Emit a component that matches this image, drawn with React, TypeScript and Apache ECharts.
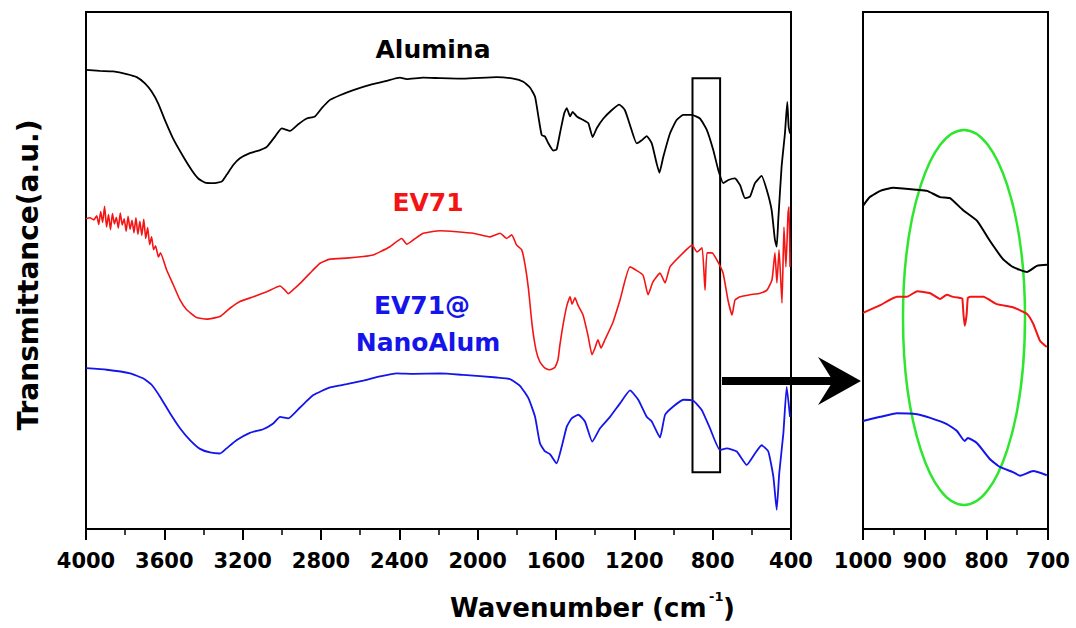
import React, { useEffect, useRef } from "react";
import * as echarts from "echarts";

// Full-range FTIR spectra: [wavenumber (cm^-1), transmittance (a.u.)]
const aluminaFull: [number, number][] = [
  [4000, 88.8], [3929, 88.6], [3861, 88.5], [3792, 88.0], [3741, 87.4], [3699, 86.2],
  [3665, 84.6], [3631, 82.3], [3597, 79.1], [3551, 75.2], [3503, 72.0], [3460, 69.4],
  [3427, 67.8], [3392, 67.0], [3350, 66.9], [3307, 67.2], [3282, 68.5], [3248, 70.4],
  [3214, 71.7], [3163, 72.7], [3111, 73.3], [3077, 73.9], [3035, 75.9], [3001, 77.5],
  [2958, 77.0], [2916, 78.3], [2873, 79.4], [2831, 79.8], [2796, 81.4], [2754, 83.0],
  [2703, 83.9], [2635, 84.9], [2550, 85.9], [2464, 86.7], [2397, 87.3], [2362, 87.0],
  [2278, 87.3], [2192, 87.2], [2073, 87.1], [1903, 87.4], [1818, 87.1], [1767, 86.5],
  [1733, 85.4], [1707, 83.6], [1690, 79.8], [1673, 76.2], [1656, 75.9], [1639, 74.6],
  [1614, 73.2], [1597, 73.4], [1580, 76.5], [1558, 80.4], [1545, 81.4], [1528, 79.8],
  [1515, 80.7], [1494, 79.8], [1460, 79.1], [1435, 78.5], [1413, 75.8], [1392, 77.5],
  [1358, 79.4], [1316, 81.0], [1277, 82.1], [1248, 81.0], [1222, 78.1], [1188, 74.6],
  [1162, 75.2], [1137, 76.0], [1111, 74.6], [1086, 70.7], [1072, 68.9], [1052, 72.0],
  [1018, 76.5], [984, 79.1], [950, 80.1], [907, 80.1], [865, 79.4], [830, 77.2],
  [797, 73.3], [771, 69.4], [746, 66.9], [720, 67.5], [686, 67.8], [660, 66.5],
  [635, 64.0], [609, 64.3], [584, 66.9], [550, 68.3], [524, 65.6], [499, 61.7],
  [482, 55.9], [473, 54.6], [465, 59.8], [448, 70.1], [431, 76.5], [419, 82.6],
  [412, 77.8], [405, 76.5],
];

const ev71Full: [number, number][] = [
  [4000, 60.0], [3980, 60.2], [3960, 59.8], [3945, 60.6], [3935, 58.9], [3925, 61.4],
  [3915, 59.3], [3905, 62.4], [3895, 58.4], [3885, 60.8], [3875, 57.9], [3865, 61.0],
  [3855, 59.0], [3845, 60.3], [3835, 58.2], [3825, 61.1], [3815, 58.8], [3805, 60.0],
  [3795, 57.6], [3785, 60.5], [3775, 58.0], [3765, 59.7], [3755, 57.3], [3745, 60.2],
  [3735, 57.0], [3725, 59.5], [3715, 56.8], [3705, 59.9], [3695, 56.2], [3685, 58.3],
  [3675, 55.0], [3665, 56.5], [3655, 54.0], [3645, 54.8], [3630, 52.6], [3620, 53.4],
  [3588, 50.1], [3554, 47.2], [3520, 44.3], [3486, 42.4], [3435, 40.9], [3384, 40.6],
  [3316, 41.1], [3265, 42.7], [3214, 44.0], [3146, 44.9], [3077, 45.9], [3009, 47.0],
  [2984, 46.2], [2967, 45.5], [2933, 46.6], [2907, 47.5], [2856, 49.5], [2805, 51.4],
  [2754, 52.2], [2669, 52.4], [2584, 52.7], [2534, 53.0], [2499, 53.6], [2448, 54.6],
  [2388, 56.2], [2362, 55.1], [2329, 55.9], [2278, 57.2], [2192, 57.7], [2022, 57.2],
  [1937, 56.5], [1886, 57.2], [1852, 56.2], [1826, 56.9], [1801, 54.9], [1775, 54.0],
  [1758, 51.1], [1741, 46.6], [1722, 39.5], [1702, 34.6], [1682, 32.3], [1656, 31.1],
  [1631, 30.8], [1605, 31.3], [1590, 32.7], [1580, 35.6], [1564, 39.5], [1544, 43.3],
  [1528, 44.9], [1518, 43.5], [1503, 44.7], [1488, 43.3], [1462, 41.4], [1437, 37.5],
  [1416, 33.7], [1401, 35.0], [1386, 36.6], [1370, 35.0], [1350, 36.6], [1309, 40.0],
  [1273, 44.3], [1222, 50.7], [1156, 49.1], [1130, 45.3], [1105, 47.8], [1069, 49.5],
  [1043, 47.6], [1018, 50.7], [951, 53.4], [905, 54.9], [880, 53.6], [854, 54.4],
  [839, 46.2], [829, 53.4], [803, 53.4], [778, 52.0], [747, 49.5], [722, 44.3],
  [701, 41.4], [686, 44.3], [660, 44.9], [609, 45.3], [558, 45.6], [523, 46.2],
  [497, 48.2], [482, 53.4], [472, 47.6], [461, 54.0], [446, 43.7], [436, 58.4],
  [426, 50.7], [415, 61.1], [410, 62.3], [405, 50.7],
];

const nanoAlumFull: [number, number][] = [
  [4000, 31.1], [3894, 30.8], [3775, 30.1], [3707, 29.1], [3665, 27.9], [3622, 25.6],
  [3571, 22.4], [3520, 19.5], [3469, 17.2], [3418, 15.5], [3367, 14.8], [3316, 14.6],
  [3282, 15.6], [3230, 17.2], [3163, 18.6], [3095, 19.3], [3044, 20.4], [3009, 21.7],
  [2967, 21.4], [2907, 23.5], [2839, 25.9], [2754, 27.4], [2669, 28.0], [2584, 28.7],
  [2499, 29.5], [2413, 30.1], [2329, 30.0], [2192, 30.1], [2073, 29.8], [1903, 29.3],
  [1835, 29.0], [1784, 27.7], [1741, 25.3], [1707, 21.7], [1682, 16.6], [1656, 15.0],
  [1631, 14.5], [1597, 12.7], [1571, 15.9], [1545, 19.8], [1520, 21.4], [1486, 22.1],
  [1452, 20.8], [1415, 16.9], [1375, 19.5], [1324, 21.7], [1273, 24.3], [1222, 26.8],
  [1180, 25.0], [1137, 21.7], [1111, 20.8], [1069, 17.7], [1043, 22.1], [1001, 23.7],
  [950, 25.0], [899, 24.8], [856, 23.0], [814, 19.5], [763, 15.3], [728, 15.6],
  [677, 15.0], [626, 12.4], [584, 14.6], [550, 16.2], [516, 15.0], [490, 10.1],
  [473, 3.7], [460, 10.8], [439, 18.5], [422, 27.5], [405, 21.7],
];

// Enlarged 1000-700 cm^-1 region
const aluminaZoom: [number, number][] = [
  [1000, 62.5], [989, 64.2], [972, 65.4], [951, 66.0], [912, 65.6], [896, 65.4],
  [875, 64.2], [859, 64.0], [838, 61.7], [815, 59.6], [794, 55.7], [773, 52.2],
  [757, 50.7], [734, 49.7], [718, 50.9], [701, 51.1],
];

const ev71Zoom: [number, number][] = [
  [1000, 41.8], [972, 43.3], [945, 44.9], [929, 44.9], [912, 46.0], [891, 45.6],
  [875, 44.5], [864, 45.3], [854, 44.9], [843, 44.7], [839, 44.6], [837, 41.4],
  [835, 39.3], [832, 41.4], [830, 44.7], [826, 44.9], [805, 44.9], [783, 43.5],
  [757, 42.9], [734, 41.6], [724, 39.7], [713, 36.4], [702, 35.2],
];

const nanoAlumZoom: [number, number][] = [
  [1000, 20.9], [972, 21.7], [945, 22.4], [912, 22.2], [891, 21.5], [864, 20.3],
  [848, 19.0], [835, 17.0], [830, 17.6], [815, 16.6], [794, 13.5], [778, 12.0],
  [757, 11.0], [745, 10.3], [724, 11.2], [702, 10.4],
];

// Box marking the enlarged region on the full spectrum
const zoomBoxWn = [903, 762];
const zoomBoxT = [11.0, 87.2];

const FONT = "'DejaVu Sans', Arial, sans-serif";
const BLACK = "#000000";
const RED = "#f51414";
const BLUE = "#1414eb";

export default function App() {
  const ref = useRef<HTMLDivElement>(null);

  useEffect(() => {
    if (!ref.current) return;
    const chart = echarts.init(ref.current, undefined, { renderer: "svg" });

    const xAxisCommon = {
      type: "value" as const,
      inverse: true,
      axisLine: { show: true, lineStyle: { color: BLACK, width: 2 } },
      axisTick: { show: true, inside: false, length: 11, lineStyle: { color: BLACK, width: 2 } },
      minorTick: { show: true, splitNumber: 2, length: 6, lineStyle: { color: BLACK, width: 1.5 } },
      splitLine: { show: false },
      minorSplitLine: { show: false },
      axisLabel: {
        color: BLACK,
        fontFamily: FONT,
        fontWeight: "bold" as const,
        fontSize: 21,
        margin: 21,
        showMinLabel: true,
        showMaxLabel: true,
        formatter: (v: number) => String(v),
      },
    };
    const yAxisCommon = {
      type: "value" as const,
      min: 0,
      max: 100,
      axisLine: { show: false },
      axisTick: { show: false },
      axisLabel: { show: false },
      splitLine: { show: false },
    };
    const lineCommon = {
      type: "line" as const,
      showSymbol: false,
      symbol: "none",
      smooth: 0.15,
      silent: true,
    };

    chart.setOption({
      animation: false,
      backgroundColor: "#ffffff",
      grid: [
        { left: 86, top: 12, width: 705, height: 517, show: true, borderColor: BLACK, borderWidth: 2, backgroundColor: "transparent" },
        { left: 863, top: 12, width: 185, height: 517, show: true, borderColor: BLACK, borderWidth: 2, backgroundColor: "transparent" },
      ],
      xAxis: [
        { ...xAxisCommon, gridIndex: 0, min: 400, max: 4000, interval: 400 },
        { ...xAxisCommon, gridIndex: 1, min: 700, max: 1000, interval: 100 },
      ],
      yAxis: [
        { ...yAxisCommon, gridIndex: 0 },
        { ...yAxisCommon, gridIndex: 1 },
      ],
      series: [
        {
          ...lineCommon,
          name: "Alumina",
          xAxisIndex: 0,
          yAxisIndex: 0,
          data: aluminaFull,
          lineStyle: { color: BLACK, width: 1.8 },
          markArea: {
            silent: true,
            itemStyle: { color: "rgba(0,0,0,0)", borderColor: BLACK, borderWidth: 2 },
            data: [[{ coord: [zoomBoxWn[0], zoomBoxT[0]] }, { coord: [zoomBoxWn[1], zoomBoxT[1]] }]],
          },
        },
        { ...lineCommon, name: "EV71", xAxisIndex: 0, yAxisIndex: 0, data: ev71Full, lineStyle: { color: RED, width: 1.6 } },
        { ...lineCommon, name: "EV71@NanoAlum", xAxisIndex: 0, yAxisIndex: 0, data: nanoAlumFull, lineStyle: { color: BLUE, width: 1.8 } },
        { ...lineCommon, name: "Alumina (zoom)", xAxisIndex: 1, yAxisIndex: 1, data: aluminaZoom, lineStyle: { color: BLACK, width: 2 } },
        { ...lineCommon, name: "EV71 (zoom)", xAxisIndex: 1, yAxisIndex: 1, data: ev71Zoom, lineStyle: { color: RED, width: 2 } },
        { ...lineCommon, name: "EV71@NanoAlum (zoom)", xAxisIndex: 1, yAxisIndex: 1, data: nanoAlumZoom, lineStyle: { color: BLUE, width: 2 } },
      ],
      graphic: [
        {
          type: "text",
          x: 28,
          y: 275,
          rotation: Math.PI / 2,
          style: {
            text: "Transmittance(a.u.)",
            fill: BLACK,
            font: `bold 28px ${FONT}`,
            align: "center",
            verticalAlign: "middle",
          },
        },
        {
          type: "text",
          x: 450,
          y: 608,
          style: { text: "Wavenumber (cm", fill: BLACK, font: `bold 26px ${FONT}`, align: "left", verticalAlign: "middle" },
        },
        {
          type: "text",
          x: 709,
          y: 596,
          style: { text: "-1", fill: BLACK, font: `bold 13px ${FONT}`, align: "left", verticalAlign: "middle" },
        },
        {
          type: "text",
          x: 723,
          y: 608,
          style: { text: ")", fill: BLACK, font: `bold 26px ${FONT}`, align: "left", verticalAlign: "middle" },
        },
        {
          type: "text",
          x: 433,
          y: 49,
          style: { text: "Alumina", fill: BLACK, font: `bold 25px ${FONT}`, align: "center", verticalAlign: "middle" },
        },
        {
          type: "text",
          x: 428,
          y: 202,
          style: { text: "EV71", fill: RED, font: `bold 25px ${FONT}`, align: "center", verticalAlign: "middle" },
        },
        {
          type: "text",
          x: 422,
          y: 305,
          style: { text: "EV71@", fill: BLUE, font: `bold 25px ${FONT}`, align: "center", verticalAlign: "middle" },
        },
        {
          type: "text",
          x: 428,
          y: 342,
          style: { text: "NanoAlum", fill: BLUE, font: `bold 25px ${FONT}`, align: "center", verticalAlign: "middle" },
        },
        {
          type: "rect",
          shape: { x: 722, y: 377, width: 112, height: 8 },
          style: { fill: BLACK },
        },
        {
          type: "polygon",
          shape: { points: [[861, 381], [818, 357], [833, 381], [818, 405]] },
          style: { fill: BLACK },
        },
        {
          type: "ellipse",
          shape: { cx: 964, cy: 317.5, rx: 61, ry: 187.5 },
          style: { fill: "none", stroke: "#2ee62e", lineWidth: 2.5 },
        },
      ],
    });

    return () => {
      chart.dispose();
    };
  }, []);

  return (
    <div
      ref={ref}
      style={{ position: "absolute", left: 0, top: 0, width: 1076, height: 628, background: "#ffffff" }}
    />
  );
}
